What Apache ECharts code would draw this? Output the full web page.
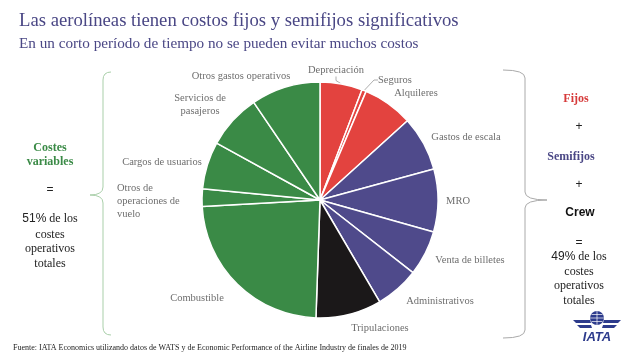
<!DOCTYPE html>
<html>
<head>
<meta charset="utf-8">
<script src="https://cdn.jsdelivr.net/npm/echarts@6/dist/echarts.min.js"></script>
<style>
html,body{margin:0;padding:0;background:#fff;}
#chart{width:640px;height:360px;}
</style>
</head>
<body>
<div id="chart"></div>
<script>
// ---- data ----
const categories = ['Depreciación','Seguros','Alquileres','Gastos de escala','MRO','Venta de billetes','Administrativos','Tripulaciones','Combustible','Otros de operaciones de vuelo','Cargos de usuarios','Servicios de pasajeros','Otros gastos operativos'];
const labelTexts = ['Depreciación','Seguros','Alquileres','Gastos de escala','MRO','Venta de billetes','Administrativos','Tripulaciones','Combustible','Otros de\noperaciones de\nvuelo','Cargos de usuarios','Servicios de\npasajeros','Otros gastos operativos'];
const values = [5.8, 0.6, 6.9, 7.5, 8.6, 6.2, 6.0, 9.0, 23.6, 2.4, 6.5, 7.5, 9.5];
const groups = ['Fijos','Fijos','Fijos','Semifijos','Semifijos','Semifijos','Semifijos','Crew','Variables','Variables','Variables','Variables','Variables'];

// ---- styles ----
const groupColors = {Fijos:'#e3433f', Semifijos:'#4f4a8b', Crew:'#1b1819', Variables:'#3a8a46'};
const labelPos = [
  {x:336,y:70,align:'center'},
  {x:378,y:80,align:'left'},
  {x:416,y:93,align:'center'},
  {x:466,y:137,align:'center'},
  {x:458,y:201,align:'center'},
  {x:470,y:260,align:'center'},
  {x:440,y:301,align:'center'},
  {x:380,y:328,align:'center'},
  {x:197,y:298,align:'center'},
  {x:117,y:201,align:'left'},
  {x:162,y:162,align:'center'},
  {x:200,y:105,align:'center'},
  {x:241,y:76,align:'center'}
];
const serif = '"Liberation Serif","DejaVu Serif",serif';
const sans = '"Liberation Sans",Arial,sans-serif';

function bracket(xEdge, xLine, xTip, yTop, yMid, yBot, color){
  const r = 8;
  const st = {stroke:color, lineWidth:1, fill:'none'};
  return [
    {type:'bezierCurve', shape:{x1:xEdge,y1:yTop,cpx1:xLine,cpy1:yTop,x2:xLine,y2:yTop+r}, style:st},
    {type:'line', shape:{x1:xLine,y1:yTop+r,x2:xLine,y2:yMid-r}, style:st},
    {type:'bezierCurve', shape:{x1:xLine,y1:yMid-r,cpx1:xLine,cpy1:yMid,x2:xTip,y2:yMid}, style:st},
    {type:'bezierCurve', shape:{x1:xTip,y1:yMid,cpx1:xLine,cpy1:yMid,x2:xLine,y2:yMid+r}, style:st},
    {type:'line', shape:{x1:xLine,y1:yMid+r,x2:xLine,y2:yBot-r}, style:st},
    {type:'bezierCurve', shape:{x1:xLine,y1:yBot-r,cpx1:xLine,cpy1:yBot,x2:xEdge,y2:yBot}, style:st}
  ];
}

const chart = echarts.init(document.getElementById('chart'), null, {renderer:'canvas'});

const pieData = categories.map((c,i)=>({
  name:c, value:values[i],
  itemStyle:{color:groupColors[groups[i]]},
  labelLine:{show:(i<=1)}
}));

const txt = (x,y,text,font,fill,extra)=>({type:'text', x:x, y:y, style:Object.assign({text:text, font:font, fill:fill, align:'center', verticalAlign:'middle'}, extra||{})});

const option = {
  backgroundColor:'#fff',
  animation:false,
  title:[
    {text:'Las aerolíneas tienen costos fijos y semifijos significativos', left:19, top:12, padding:0,
     textStyle:{fontFamily:serif, fontSize:18.7, fontWeight:'normal', color:'#4a4785'}},
    {text:'En un corto período de tiempo no se pueden evitar muchos costos', left:19, top:37, padding:0,
     textStyle:{fontFamily:serif, fontSize:15.2, fontWeight:'normal', color:'#4a4785'}}
  ],
  series:[{
    type:'pie',
    center:[320,200],
    radius:[0,118],
    startAngle:90,
    clockwise:true,
    data:pieData,
    itemStyle:{borderColor:'#fff', borderWidth:1.5},
    label:{
      show:true, position:'outside',
      formatter:(p)=>labelTexts[p.dataIndex],
      fontFamily:serif, fontSize:10.5, color:'#6e6e6e', lineHeight:13
    },
    labelLine:{show:false, length:4, length2:4, lineStyle:{color:'#999', width:0.8}},
    labelLayout:(params)=>{
      const p = labelPos[params.dataIndex];
      return {x:p.x, y:p.y, align:p.align, verticalAlign:'middle'};
    }
  }],
  graphic:[].concat(
    bracket(111, 103, 90, 72, 195, 335, '#a9cfa9'),
    bracket(503, 525, 547, 70, 200, 338, '#aaaaaa'),
  [
    // left text
    txt(50,155,'Costes\nvariables','bold 12px '+serif,'#3a8a46',{lineHeight:14}),
    txt(50,190,'=','12px '+sans,'#222'),
    txt(50,219,'{a|51%} de los','12px '+serif,'#222',{rich:{a:{fontFamily:sans, fontSize:12, fill:'#222'}}}),
    txt(50,249,'costes\noperativos\ntotales','12px '+serif,'#222',{lineHeight:14.5}),
    // right text
    txt(576,99,'Fijos','bold 12px '+serif,'#d63a3a'),
    txt(579,127,'+','12px '+sans,'#222'),
    txt(571,157,'Semifijos','bold 12px '+serif,'#4a4785'),
    txt(579,185,'+','12px '+sans,'#222'),
    txt(580,213,'Crew','bold 12px '+sans,'#111'),
    txt(579,243,'=','12px '+sans,'#222'),
    txt(579,257,'{a|49%} de los','12px '+serif,'#222',{rich:{a:{fontFamily:sans, fontSize:12, fill:'#222'}}}),
    txt(579,286,'costes\noperativos\ntotales','12px '+serif,'#222',{lineHeight:14.5}),
    // IATA logo
    {type:'polygon', shape:{points:[[573,320],[590,320],[591,323],[576,323]]}, style:{fill:'#2d3b8c'}},
    {type:'polygon', shape:{points:[[577,325],[591,325],[592,328],[580,328]]}, style:{fill:'#2d3b8c'}},
    {type:'polygon', shape:{points:[[621,320],[604,320],[603,323],[618,323]]}, style:{fill:'#2d3b8c'}},
    {type:'polygon', shape:{points:[[617,325],[603,325],[602,328],[614,328]]}, style:{fill:'#2d3b8c'}},
    {type:'circle', shape:{cx:597, cy:318, r:7}, style:{fill:'#2d3b8c'}},
    {type:'line', shape:{x1:590,y1:318,x2:604,y2:318}, style:{stroke:'#fff', lineWidth:0.7}},
    {type:'line', shape:{x1:597,y1:311,x2:597,y2:325}, style:{stroke:'#fff', lineWidth:0.7}},
    {type:'line', shape:{x1:591.5,y1:314.5,x2:602.5,y2:314.5}, style:{stroke:'#fff', lineWidth:0.7}},
    {type:'line', shape:{x1:591.5,y1:321.5,x2:602.5,y2:321.5}, style:{stroke:'#fff', lineWidth:0.7}},
    txt(597,337,'IATA','italic bold 13px '+sans,'#2d3b8c'),
    // footer
    {type:'text', x:13, y:348, style:{text:'Fuente: IATA Economics utilizando datos de WATS y de Economic Performance of the Airline Industry de finales de 2019', fill:'#222', font:'8px '+serif, align:'left', verticalAlign:'middle'}}
  ])
};
chart.setOption(option);
</script>
</body>
</html>
